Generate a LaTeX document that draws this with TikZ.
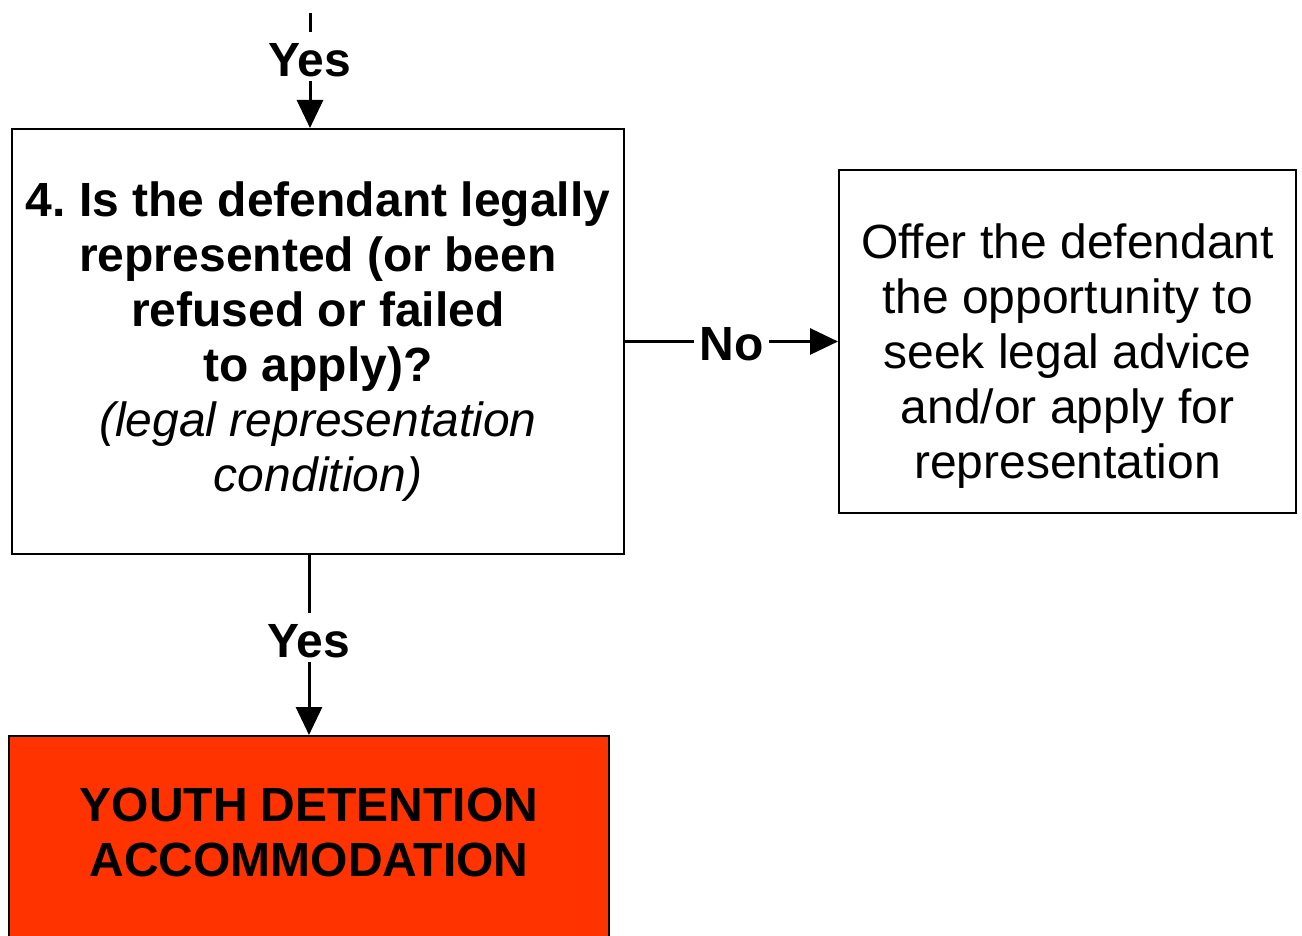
\documentclass[tikz,border=0pt]{standalone}
\usepackage{fontspec}
\setmainfont{Liberation Sans}
\usepackage{xcolor}
\usetikzlibrary{positioning,arrows.meta}
\definecolor{detred}{HTML}{FF3300}
\tikzset{
	box/.style={draw,line width=1pt,align=center,font=\fontsize{24pt}{27.5pt}\selectfont},
	boldbox/.style={box,font=\fontsize{24pt}{27.5pt}\selectfont\bfseries},
	lbl/.style={fill=white,inner sep=0pt,text height=22pt,text depth=2.5pt,font=\fontsize{24pt}{27.5pt}\selectfont\bfseries}
}

\begin{document}
\begin{tikzpicture}[->,>={Triangle[length=14pt,width=13pt]},line width=1.5pt,x=0.5pt,y=-0.5pt]
		\useasboundingbox (0,0) rectangle (1302,936);
		\coordinate (intop) at (310,13);
		\node[boldbox,minimum width=306pt,minimum height=212.5pt] (q4) at (318,341.5) {4.\ Is the defendant legally\\represented (or been\\refused or failed\\to apply)?\\\textmd{\itshape (legal representation}\\\textmd{\itshape condition)}};
		\node[box,minimum width=228.5pt,minimum height=171pt] (offer) [right=106.5pt of q4] {\rule{0pt}{31.5pt}Offer the defendant\\the opportunity to\\seek legal advice\\and/or apply for\\representation};
		\node[boldbox,fill=detred,minimum width=300pt,inner ysep=26pt] (yda) [below=90pt of q4,xshift=-4.5pt] {YOUTH DETENTION\\ACCOMMODATION\rule[-40pt]{0pt}{40pt}};

		\draw 	(intop) -- node[lbl,pos=.38]{Yes} (intop |- q4.north);
		\draw 	(q4.east) -- node[lbl,inner xsep=3pt]{No} (offer.west);
		\draw 	(q4.south -| yda.north) -- node[lbl,pos=.46]{Yes} (yda.north);
\end{tikzpicture}
\end{document}
